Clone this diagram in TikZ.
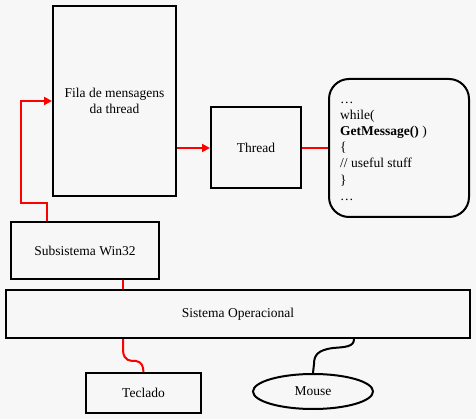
\documentclass[tikz,border=0pt]{standalone}
\usepackage{fontspec}
\setmainfont{Liberation Serif}
\usetikzlibrary{arrows.meta,shapes.geometric}
\definecolor{bg}{HTML}{F7F7F7}
\definecolor{wire}{HTML}{FF0000}
\begin{document}
\begin{tikzpicture}[x=1pt,y=-1pt,
  box/.style={draw=black,line width=2pt,fill=bg,inner sep=2pt,align=center,font=\fontsize{13.5}{16}\selectfont},
  redline/.style={draw=wire,line width=2pt},
  tip/.style={-{Triangle[length=8pt,width=8pt]}},
  blackline/.style={draw=black,line width=2pt}]
\fill[bg] (0,0) rectangle (476,419);
\useasboundingbox (0,0) rectangle (476,419);
\node[box,minimum width=123pt,minimum height=190pt] (fila) at (114.5,101) {Fila de mensagens\\da thread};
\node[box,minimum width=90pt,minimum height=81pt] (thread) at (256,148) {Thread};
\node[box,minimum width=140pt,minimum height=138pt,rounded corners=20pt] (code) at (399,148) {};
\node[anchor=west,align=left,inner sep=0pt,font=\fontsize{13.5}{16.2}\selectfont] (codetext) at ([xshift=12pt,yshift=-3pt]code.west)
  {\ldots\\while(\\\textbf{GetMessage()} )\\\{\\// useful stuff\\\}\\\ldots};
\node[box,minimum width=148pt,minimum height=57pt] (sub) at (85,250.5) {Subsistema Win32};
\node[box,minimum width=464pt,minimum height=48pt] (so) at (238,314) {Sistema Operacional};
\node[box,minimum width=115pt,minimum height=40pt] (tec) at (143.5,393) {Teclado};
\node[box,ellipse,minimum width=120pt,minimum height=35pt,inner sep=0pt] (mouse) at (313,391.5) {Mouse};
% connectors
\draw[redline,tip] ([xshift=37pt]sub.north west) -- ++(0,-18) -- ++(-26,0) |- (fila.west);
\draw[redline,tip] (fila.east |- thread.west) -- (thread.west);
\draw[redline] (thread.east) -- (code.west);
\draw[redline] ([xshift=38pt]sub.south) -- ([xshift=-115pt]so.north);
\draw[redline] ([xshift=-115pt]so.south) -- ++(0,12) .. controls ++(1,10) and (130,361) .. (136,361) .. controls (142,362) and (143,366) .. (tec.north);
\draw[blackline] ([xshift=116pt]so.south) .. controls ++(0,8) and (345,347) .. (333,348) .. controls (318,350) and (314,355) .. (314,364) -- (mouse.north);
\end{tikzpicture}
\end{document}
